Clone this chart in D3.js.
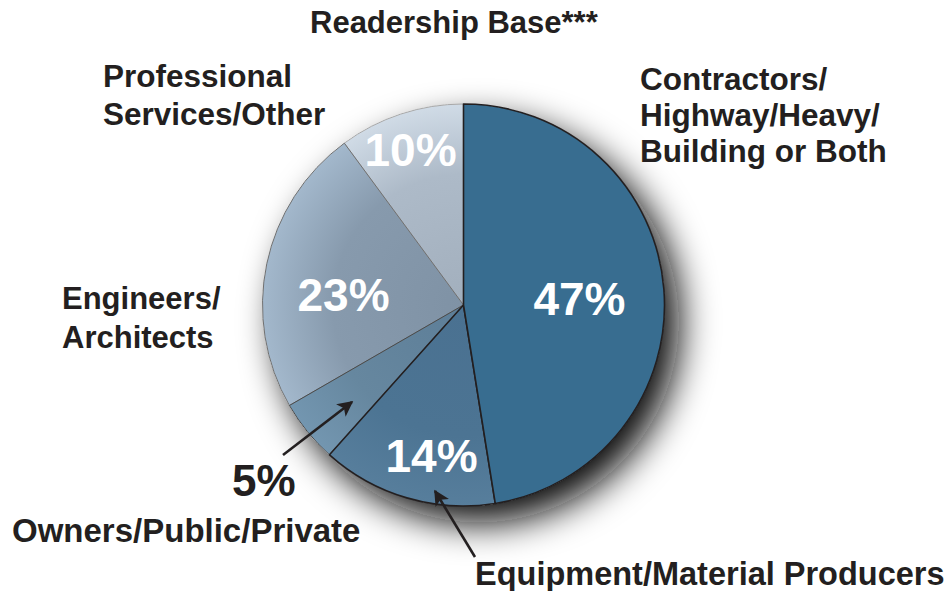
<!DOCTYPE html>
<html lang="en">

<head>
    <meta charset="UTF-8">
    <title>Readership Base</title>
    <style>
        body {
            margin: 0;
            background: #ffffff;
        }

        text {
            font-family: "Liberation Sans", Arial, Helvetica, sans-serif;
            font-weight: bold;
        }
    </style>
</head>

<body>
    <svg id="chart" width="948" height="591"></svg>

    <script src="https://cdn.jsdelivr.net/npm/d3@7"></script>
    <script>
        // data
        const categories = [
            'Contractors/Highway/Heavy/Building or Both',
            'Equipment/Material Producers',
            'Owners/Public/Private',
            'Engineers/Architects',
            'Professional Services/Other'
        ];
        const shares = [47, 14, 5, 23, 10];
        const percentLabels = ['47%', '14%', '5%', '23%', '10%'];
        const title = 'Readership Base***';

        // styling per slice
        const innerColors = ['#386d90', '#4a7191', '#5d7e98', '#7f92a5', '#a2afbd'];
        const midColors = ['#386d90', '#4c7493', '#66879f', '#879aad', '#adbac8'];
        const outerColors = ['#386d90', '#577e9c', '#7396b0', '#a3b8cc', '#d0dbe6'];
        const strokeColors = ['#231f20', '#231f20', '#4a4a4a', '#707070', '#a8a8a8'];

        const cx = 463.5;
        const cy = 305;
        const radius = 201;
        const ink = '#231f20';

        const svg = d3.select('#chart');
        const defs = svg.append('defs');

        // drop shadow under the pie
        const shadow = defs.append('filter')
            .attr('id', 'pie_shadow')
            .attr('x', '-40%').attr('y', '-40%')
            .attr('width', '180%').attr('height', '180%');
        shadow.append('feDropShadow')
            .attr('dx', 15)
            .attr('dy', 17)
            .attr('stdDeviation', 18)
            .attr('flood-color', '#101010')
            .attr('flood-opacity', 1);

        // gradients live in the pie group's coordinates, so centre is 0,0
        shares.forEach((d, i) => {
            const grad = defs.append('radialGradient')
                .attr('id', 'grad_' + i)
                .attr('gradientUnits', 'userSpaceOnUse')
                .attr('cx', 0).attr('cy', 0).attr('r', radius);
            grad.append('stop').attr('offset', '0%').attr('stop-color', innerColors[i]);
            grad.append('stop').attr('offset', '65%').attr('stop-color', midColors[i]);
            grad.append('stop').attr('offset', '100%').attr('stop-color', outerColors[i]);
        });

        const pie = d3.pie().sort(null).value(d => d);
        const arcs = pie(shares);
        const arc = d3.arc().innerRadius(0).outerRadius(radius);

        const pie_g = svg.append('g')
            .attr('transform', `translate(${cx}, ${cy})`);

        // shadow base disc
        pie_g.append('circle')
            .attr('r', radius)
            .attr('fill', '#ffffff')
            .attr('filter', 'url(#pie_shadow)');

        // draw light slices first so the dark outlines end up on top
        const order = [4, 3, 2, 1, 0];
        pie_g.selectAll('path.slice')
            .data(order.map(i => ({ a: arcs[i], i: i })))
            .enter()
            .append('path')
            .attr('class', 'slice')
            .attr('d', d => arc(d.a))
            .attr('fill', d => `url(#grad_${d.i})`)
            .attr('stroke', d => strokeColors[d.i])
            .attr('stroke-width', d => d.i < 2 ? 1.6 : 1)
            .attr('stroke-linejoin', 'round');

        // percent labels inside the slices (offsets from the pie centre)
        const insideOffsets = [[116, -6], [-32, 151], null, [-120, -10], [-53, -155]];
        pie_g.selectAll('text.pct')
            .data(arcs.map((a, i) => i).filter(i => insideOffsets[i]))
            .enter()
            .append('text')
            .attr('class', 'pct')
            .attr('x', i => insideOffsets[i][0])
            .attr('y', i => insideOffsets[i][1])
            .attr('dy', '0.35em')
            .attr('text-anchor', 'middle')
            .attr('font-size', 46)
            .attr('fill', '#ffffff')
            .text(i => percentLabels[i]);

        // outside text
        svg.append('text')
            .attr('x', 310).attr('y', 33)
            .attr('font-size', 31)
            .attr('fill', ink)
            .text(title);

        const outsideLabels = [
            { lines: ['Contractors/', 'Highway/Heavy/', 'Building or Both'], x: 640, y: 90, size: 31.5, step: 36 },
            { lines: ['Equipment/Material Producers'], x: 475, y: 585, size: 32.5, step: 0 },
            { lines: ['Owners/Public/Private'], x: 12, y: 542, size: 33, step: 0 },
            { lines: ['Engineers/', 'Architects'], x: 62, y: 309, size: 31, step: 39 },
            { lines: ['Professional', 'Services/Other'], x: 103, y: 87, size: 31.5, step: 38 }
        ];

        outsideLabels.forEach(lab => {
            const t = svg.append('text')
                .attr('class', 'cat')
                .attr('x', lab.x).attr('y', lab.y)
                .attr('font-size', lab.size)
                .attr('fill', ink);
            lab.lines.forEach((ln, j) => {
                t.append('tspan')
                    .attr('x', lab.x)
                    .attr('dy', j == 0 ? 0 : lab.step)
                    .text(ln);
            });
        });

        // small slice's percent sits outside
        svg.append('text')
            .attr('x', 232).attr('y', 496)
            .attr('font-size', 44)
            .attr('fill', ink)
            .text(percentLabels[2]);

        // arrows
        defs.append('marker')
            .attr('id', 'arrow_head')
            .attr('viewBox', '0 0 10 10')
            .attr('refX', 9).attr('refY', 5)
            .attr('markerWidth', 6).attr('markerHeight', 6)
            .attr('orient', 'auto')
            .attr('markerUnits', 'strokeWidth')
            .append('path')
            .attr('d', 'M0,0 L10,5 L0,10 L2.5,5 Z')
            .attr('fill', ink);

        const arrows = [
            [[283, 455], [352, 402]],
            [[475, 557], [435, 491]]
        ];
        svg.selectAll('line.arrow')
            .data(arrows)
            .enter()
            .append('line')
            .attr('class', 'arrow')
            .attr('x1', d => d[0][0]).attr('y1', d => d[0][1])
            .attr('x2', d => d[1][0]).attr('y2', d => d[1][1])
            .attr('stroke', ink)
            .attr('stroke-width', 2.6)
            .attr('marker-end', 'url(#arrow_head)');
    </script>
</body>

</html>
